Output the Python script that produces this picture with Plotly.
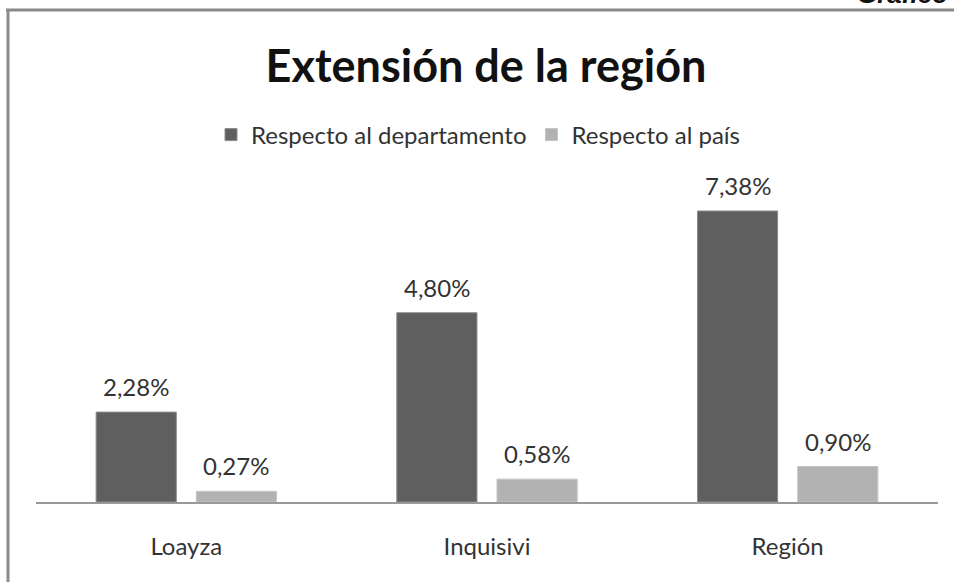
import plotly.graph_objects as go

categorias = ["Loayza", "Inquisivi", "Región"]
resp_departamento = [2.28, 4.80, 7.38]
resp_pais = [0.27, 0.58, 0.90]
etiquetas_dep = ["2,28%", "4,80%", "7,38%"]
etiquetas_pais = ["0,27%", "0,58%", "0,90%"]

W, H = 954, 582
ML, MR, MT, MB = 36, 16, 180, 80
PW, PH = W - ML - MR, H - MT - MB


def px_x(p):
    return (p - ML) / PW


def px_y(p):
    return 1 + (MT - p) / PH


fuente = "Lato, Open Sans, sans-serif"

fig = go.Figure()
fig.add_trace(go.Bar(
    x=categorias, y=resp_departamento, name="Respecto al departamento",
    marker=dict(color="#5f5f5f", line=dict(color="#8c8c8c", width=1)),
))
fig.add_trace(go.Bar(
    x=categorias, y=resp_pais, name="Respecto al país",
    marker=dict(color="#b2b2b2", line=dict(color="#c4c4c4", width=1)),
))

anots = []
for cat, v, t in zip(categorias, resp_departamento, etiquetas_dep):
    anots.append(dict(x=cat, y=v, text=t, xshift=-50, yshift=9, showarrow=False,
                      yanchor="bottom", font=dict(size=24, color="#333333", family=fuente)))
for cat, v, t in zip(categorias, resp_pais, etiquetas_pais):
    anots.append(dict(x=cat, y=v, text=t, xshift=50, yshift=9, showarrow=False,
                      yanchor="bottom", font=dict(size=24, color="#333333", family=fuente)))

# "Gráfico" cortado arriba a la derecha
anots.append(dict(xref="paper", yref="paper", x=px_x(950), y=px_y(11), text="<b><i>Gráfico</i></b>",
                  xanchor="right", yanchor="bottom", showarrow=False,
                  font=dict(size=26, color="#111111", family="Liberation Sans, Arial")))

fig.update_layout(
    width=W, height=H,
    margin=dict(l=ML, r=MR, t=MT, b=MB),
    paper_bgcolor="white", plot_bgcolor="white",
    barmode="group", bargap=1/3, bargroupgap=0.2,
    title=dict(text="<b>Extensión de la región</b>", x=486 / W, xanchor="center",
               y=1 - 66 / H, yanchor="middle",
               font=dict(size=45, color="#111111", family=fuente)),
    legend=dict(orientation="h", x=px_x(478), xanchor="center", y=px_y(135), yanchor="middle",
                font=dict(size=24, color="#333333", family=fuente)),
    xaxis=dict(showline=True, linecolor="#999999", linewidth=1.5, ticks="",
               tickfont=dict(size=24, color="#333333", family=fuente), ticklabelstandoff=22),
    yaxis=dict(range=[0, (502 - MT) / 39.43], visible=False, showgrid=False),
    annotations=anots,
    shapes=[
        dict(type="line", xref="paper", yref="paper", x0=px_x(6), x1=px_x(960),
             y0=px_y(10), y1=px_y(10), line=dict(color="#8a8a8a", width=3)),
        dict(type="line", xref="paper", yref="paper", x0=px_x(8), x1=px_x(8),
             y0=px_y(9), y1=px_y(590), line=dict(color="#8a8a8a", width=3)),
    ],
    showlegend=True,
)

fig.write_html("out.html", config={"displayModeBar": False},
               post_script="document.body.style.margin='0';")
